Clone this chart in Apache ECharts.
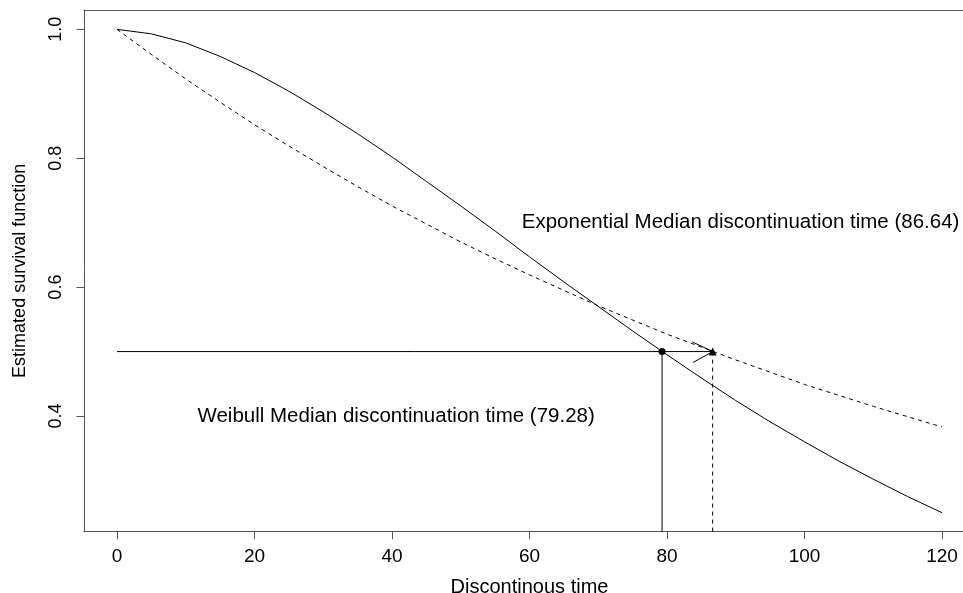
<!DOCTYPE html>
<html>
<head>
<meta charset="utf-8">
<script src="https://cdn.jsdelivr.net/npm/echarts@6/dist/echarts.min.js"></script>
<style>html,body{margin:0;padding:0;background:#fff;}#c{width:963px;height:593px;}</style>
</head>
<body>
<div id="c"></div>
<script>
// ---- data ----
var times = [0,5,10,15,20,25,30,35,40,45,50,55,60,65,70,75,80,85,90,95,100,105,110,115,120];
var weibull = [1.000,0.993,0.979,0.958,0.933,0.904,0.872,0.838,0.802,0.764,0.726,0.687,0.647,0.608,0.570,0.532,0.495,0.459,0.424,0.391,0.360,0.330,0.302,0.275,0.250];
var exponential = [1.000,0.961,0.923,0.887,0.852,0.819,0.787,0.756,0.726,0.698,0.670,0.644,0.619,0.595,0.571,0.549,0.527,0.507,0.487,0.468,0.449,0.432,0.415,0.399,0.383];
var medianWeibull = 79.28;
var medianExp = 86.64;
var medianLevel = 0.5;
var xTicks = [0,20,40,60,80,100,120];
var yTicks = [0.4,0.6,0.8,1.0];
var arrowHead = [[83.68,0.515],[86.64,0.5],[83.78,0.483]];
var labelExp = 'Exponential Median discontinuation time (' + medianExp.toFixed(2) + ')';
var labelWei = 'Weibull Median discontinuation time (' + medianWeibull.toFixed(2) + ')';

var xMin = -4.8, xMax = 124.8, yMin = 0.2205, yMax = 1.03;
var FONT = "'Liberation Sans', Arial, Helvetica, sans-serif";
var INK = '#000';
var AX = '#555';

function pairs(xs, ys){ return xs.map(function(x,i){ return [x, ys[i]]; }); }

var chart = echarts.init(document.getElementById('c'), null, {renderer:'canvas'});
chart.setOption({
  animation: false,
  backgroundColor: '#fff',
  grid: { left: 84, top: 10, width: 891, height: 521.7, show: false, containLabel: false, outerBoundsMode: 'none' },
  xAxis: [{
    type: 'value', min: xMin, max: xMax, position: 'bottom',
    name: 'Discontinous time', nameLocation: 'middle', nameGap: 46,
    nameTextStyle: { fontFamily: FONT, fontSize: 20, color: INK },
    axisLine: { show: true, onZero: false, lineStyle: { color: AX, width: 1 } },
    axisTick: { show: true, length: 7.5, inside: false, customValues: xTicks, lineStyle: { color: AX, width: 1 } },
    axisLabel: { show: true, customValues: xTicks, margin: 16, fontFamily: FONT, fontSize: 19, color: INK },
    splitLine: { show: false }
  }, {
    type: 'value', min: xMin, max: xMax, position: 'top',
    axisLine: { show: true, onZero: false, lineStyle: { color: AX, width: 1 } },
    axisTick: { show: false }, axisLabel: { show: false }, splitLine: { show: false }
  }],
  yAxis: {
    type: 'value', min: yMin, max: yMax,
    name: 'Estimated survival function', nameLocation: 'middle', nameRotate: 90, nameGap: 55,
    nameTextStyle: { fontFamily: FONT, fontSize: 18, color: INK },
    axisLine: { show: true, onZero: false, lineStyle: { color: AX, width: 1 } },
    axisTick: { show: true, length: 7.5, customValues: yTicks, lineStyle: { color: AX, width: 1 } },
    axisLabel: { show: true, customValues: yTicks, rotate: 90, margin: 19, fontFamily: FONT, fontSize: 18, color: INK,
      formatter: function(v){ return v.toFixed(1); } },
    splitLine: { show: false }
  },
  series: [
    { name: 'Weibull', type: 'line', data: pairs(times, weibull), showSymbol: false, symbol: 'none', smooth: false,
      lineStyle: { color: '#000', width: 1 } },
    { name: 'Exponential', type: 'line', data: pairs(times, exponential), showSymbol: false, symbol: 'none', smooth: false,
      lineStyle: { color: '#000', width: 1, type: [4,4] } },
    { type: 'line', data: [[0, medianLevel],[medianExp, medianLevel]], showSymbol: false, symbol: 'none',
      lineStyle: { color: '#000', width: 1 } },
    { type: 'line', data: arrowHead, showSymbol: false, symbol: 'none',
      lineStyle: { color: '#000', width: 1 } },
    { type: 'line', data: [[medianWeibull, medianLevel],[medianWeibull, yMin]], showSymbol: false, symbol: 'none',
      lineStyle: { color: '#000', width: 1 } },
    { type: 'line', data: [[medianExp, medianLevel],[medianExp, yMin]], showSymbol: false, symbol: 'none',
      lineStyle: { color: '#000', width: 1, type: [4,4] } },
    { type: 'scatter', data: [[medianWeibull, medianLevel]], symbol: 'circle', symbolSize: 7,
      itemStyle: { color: '#000', opacity: 1 } },
    { type: 'scatter', data: [[medianExp, medianLevel]], symbol: 'triangle', symbolSize: 8,
      itemStyle: { color: '#000', opacity: 1 } },
    { type: 'scatter', symbolSize: 0, silent: true, itemStyle: { opacity: 1, color: '#000' },
      data: [
        { value: [90.7, 0.70], label: { formatter: labelExp } },
        { value: [40.6, 0.40], label: { formatter: labelWei } }
      ],
      label: { show: true, position: 'inside', fontFamily: FONT, fontSize: 20.5, color: INK, opacity: 1, textBorderWidth: 0 } }
  ]
});
</script>
</body>
</html>
